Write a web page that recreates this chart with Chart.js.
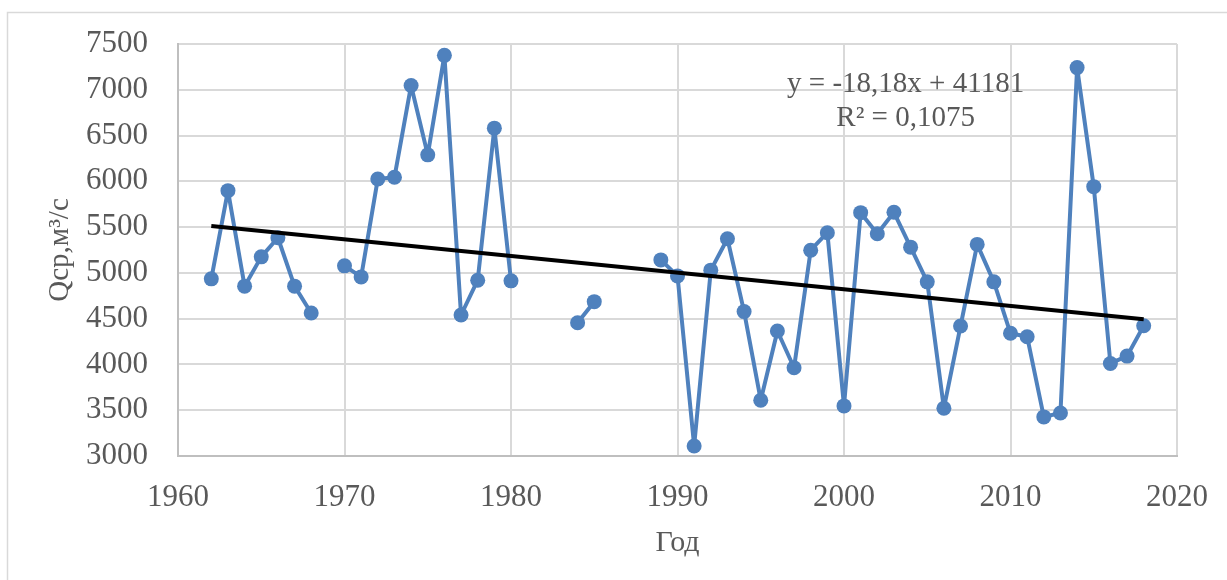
<!DOCTYPE html>
<html>
<head>
<meta charset="utf-8">
<script src="https://cdn.jsdelivr.net/npm/chart.js@4/dist/chart.umd.min.js"></script>
<style>
  html, body { margin: 0; padding: 0; background: #fff; }
</style>
</head>
<body>
<canvas id="flow" width="1227" height="580"></canvas>
<script>
var fontFamily = '"Liberation Serif","Times New Roman",serif';

// mean annual discharge by year, null = no observations
var years = [1962, 1963, 1964, 1965, 1966, 1967, 1968, 1969, 1970, 1971,
             1972, 1973, 1974, 1975, 1976, 1977, 1978, 1979, 1980, 1981,
             1982, 1983, 1984, 1985, 1986, 1987, 1988, 1989, 1990, 1991,
             1992, 1993, 1994, 1995, 1996, 1997, 1998, 1999, 2000, 2001,
             2002, 2003, 2004, 2005, 2006, 2007, 2008, 2009, 2010, 2011,
             2012, 2013, 2014, 2015, 2016, 2017, 2018];
var discharge = [4935, 5898, 4855, 5175, 5384, 4855, 4562, null, 5077, 4956,
                 6026, 6044, 7047, 6289, 7376, 4540, 4920, 6581, 4913, null,
                 null, null, 4456, 4686, null, null, null, 5142, 4967, 3110,
                 5030, 5373, 4577, 3609, 4365, 3964, 5248, 5439, 3547, 5658,
                 5428, 5662, 5281, 4902, 3522, 4420, 5311, 4902, 4340, 4303,
                 3427, 3470, 7242, 5942, 4011, 4091, 4423];

// linear trend y = a*x + b
var trendSlope = -18.18;
var trendIntercept = 41181;
var trendR2 = '0,1075';

var xTicks = [1960, 1970, 1980, 1990, 2000, 2010, 2020];
var yTicks = [3000, 3500, 4000, 4500, 5000, 5500, 6000, 6500, 7000, 7500];

var points = years.map(function (yr, i) { return { x: yr, y: discharge[i] }; });
var trendYears = [years[0], years[years.length - 1]];
var trendPoints = trendYears.map(function (yr) {
    return { x: yr, y: trendSlope * yr + trendIntercept };
});

// outer frame of the chart area
var framePlugin = {
    id: 'frame',
    beforeDraw: function (chart) {
        var ctx = chart.ctx;
        ctx.save();
        ctx.fillStyle = '#fff';
        ctx.fillRect(0, 0, chart.width, chart.height);
        ctx.strokeStyle = '#d9d9d9';
        ctx.lineWidth = 1.5;
        ctx.strokeRect(7.5, 12.5, chart.width + 20, chart.height + 20);
        ctx.restore();
    }
};

// trend equation label
var equationPlugin = {
    id: 'equation',
    afterDatasetsDraw: function (chart) {
        var ctx = chart.ctx;
        var xs = chart.scales.x, ys = chart.scales.y;
        var cx = xs.getPixelForValue(2003.7);
        var y1 = ys.getPixelForValue(7060);
        var y2 = ys.getPixelForValue(6690);
        ctx.save();
        ctx.fillStyle = '#595959';
        ctx.font = '29px ' + fontFamily;
        ctx.textAlign = 'center';
        ctx.textBaseline = 'middle';
        var sign = trendIntercept >= 0 ? ' + ' : ' - ';
        var eq = 'y = ' + String(trendSlope).replace('.', ',') + 'x' + sign + Math.abs(trendIntercept);
        ctx.fillText(eq, cx, y1);
        ctx.fillText('R² = ' + trendR2, cx, y2);
        ctx.restore();
    }
};

var canvas = document.getElementById('flow');
new Chart(canvas, {
    type: 'line',
    data: {
        datasets: [{
            data: points,
            borderColor: '#4f81bd',
            backgroundColor: '#4f81bd',
            borderWidth: 4,
            borderJoinStyle: 'round',
            borderCapStyle: 'round',
            pointRadius: 7.5,
            pointHoverRadius: 7.5,
            pointBorderWidth: 0,
            spanGaps: false,
            tension: 0,
            order: 2
        }, {
            data: trendPoints,
            borderColor: '#000',
            borderWidth: 4,
            pointRadius: 0,
            tension: 0,
            order: 1
        }]
    },
    options: {
        responsive: false,
        animation: false,
        devicePixelRatio: 1,
        layout: { padding: { top: 44, right: 50, left: 0, bottom: 0 } },
        plugins: {
            legend: { display: false },
            tooltip: { enabled: false }
        },
        scales: {
            x: {
                type: 'linear',
                min: 1960,
                max: 2020,
                afterBuildTicks: function (scale) {
                    scale.ticks = xTicks.map(function (v) { return { value: v }; });
                },
                ticks: {
                    color: '#595959',
                    padding: 23,
                    maxRotation: 0,
                    autoSkip: false,
                    font: { size: 31, family: fontFamily },
                    callback: function (v) { return String(v); }
                },
                grid: { color: '#d9d9d9', lineWidth: 2, drawTicks: false },
                border: { color: '#bfbfbf', width: 2 },
                title: {
                    display: true,
                    text: 'Год',
                    color: '#595959',
                    font: { size: 30, family: fontFamily },
                    padding: { top: 0, bottom: 19 }
                },
                afterFit: function (scale) {
                    scale.height = 124;
                    scale.paddingLeft = 0;
                    scale.paddingRight = 0;
                }
            },
            y: {
                min: 3000,
                max: 7500,
                afterBuildTicks: function (scale) {
                    scale.ticks = yTicks.map(function (v) { return { value: v }; });
                },
                ticks: {
                    color: '#595959',
                    padding: 30,
                    autoSkip: false,
                    font: { size: 31, family: fontFamily },
                    callback: function (v) { return String(v); }
                },
                grid: { color: '#d9d9d9', lineWidth: 2, drawTicks: false },
                border: { color: '#bfbfbf', width: 2 },
                title: {
                    display: true,
                    text: 'Qср,м³/с',
                    color: '#595959',
                    font: { size: 29, family: fontFamily },
                    padding: { top: 43, bottom: 0 }
                },
                afterFit: function (scale) {
                    scale.width = 178;
                    scale.paddingTop = 0;
                    scale.paddingBottom = 0;
                }
            }
        }
    },
    plugins: [framePlugin, equationPlugin]
});
</script>
</body>
</html>
